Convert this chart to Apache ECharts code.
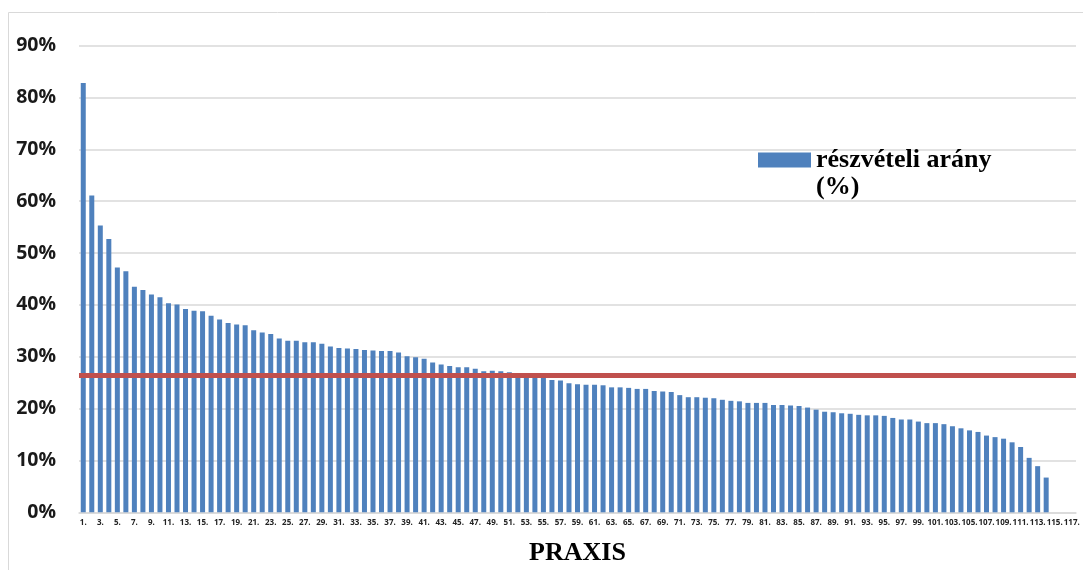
<!DOCTYPE html>
<html lang="hu">
<head>
    <meta charset="UTF-8">
    <title>részvételi arány</title>
    <script src="https://cdn.jsdelivr.net/npm/echarts@6/dist/echarts.min.js"></script>
    <style>
        html, body { margin: 0; padding: 0; background: #fff; }
        #paint { width: 1083px; height: 570px; }
    </style>
</head>
<body>
<div id="paint"></div>
<script type="text/javascript">
    // praxis sorszámok 1..117 (csak 114 értékkel)
    var categories = [];
    for (var i = 1; i <= 117; i++) {
        categories.push(i + '.');
    }

    // részvételi arány (%) praxisonként
    var rates = [
        82.8, 61.1, 55.3, 52.7, 47.2, 46.5, 43.5, 42.9, 42.0, 41.5,
        40.3, 40.1, 39.2, 38.9, 38.8, 37.9, 37.2, 36.5, 36.2, 36.1,
        35.1, 34.7, 34.4, 33.5, 33.1, 33.1, 32.8, 32.8, 32.5, 32.0,
        31.7, 31.6, 31.5, 31.3, 31.2, 31.1, 31.1, 30.8, 30.1, 29.9,
        29.6, 28.9, 28.5, 28.2, 28.0, 28.0, 27.7, 27.2, 27.3, 27.2,
        27.0, 26.8, 26.6, 26.5, 26.3, 25.5, 25.4, 24.9, 24.7, 24.6,
        24.6, 24.5, 24.1, 24.1, 24.0, 23.8, 23.8, 23.4, 23.3, 23.2,
        22.6, 22.2, 22.2, 22.1, 22.0, 21.7, 21.5, 21.4, 21.1, 21.1,
        21.1, 20.7, 20.7, 20.6, 20.5, 20.2, 19.8, 19.4, 19.3, 19.1,
        19.0, 18.8, 18.7, 18.7, 18.6, 18.2, 17.9, 17.9, 17.5, 17.2,
        17.2, 17.0, 16.6, 16.2, 15.8, 15.5, 14.8, 14.5, 14.2, 13.5,
        12.6, 10.5, 8.9, 6.7
    ];

    // átlag (piros vonal)
    var average = 26.4;

    var seriesName = 'részvételi arány';

    var myChart = echarts.init(document.getElementById('paint'));

    var option = {
        animation: false,
        grid: {
            left: 79,
            right: 7,
            top: 45.7,
            bottom: 57.7,
            outerBoundsMode: 'none'
        },
        legend: {
            data: [seriesName],
            left: 753,
            top: 142,
            itemWidth: 53,
            itemHeight: 15,
            itemGap: 4,
            icon: 'rect',
            textStyle: {
                fontFamily: '"Liberation Serif", serif',
                fontWeight: 'bold',
                fontSize: 26,
                color: '#000'
            }
        },
        graphic: [
            {
                type: 'rect',
                shape: { x: 8.5, y: 12.5, width: 1090, height: 570 },
                style: { fill: 'none', stroke: '#d9d9d9', lineWidth: 1 },
                silent: true
            },
            {
                type: 'text',
                left: 816,
                top: 174,
                style: {
                    text: '(%)',
                    font: 'bold 26px "Liberation Serif", serif',
                    fill: '#000'
                }
            }
        ],
        xAxis: {
            type: 'category',
            data: categories,
            name: 'PRAXIS',
            nameLocation: 'middle',
            nameGap: 28,
            nameTextStyle: {
                fontFamily: '"Liberation Serif", serif',
                fontWeight: 'bold',
                fontSize: 26,
                color: '#000'
            },
            axisLine: { lineStyle: { color: '#d9d9d9', width: 1.5 } },
            axisTick: { show: false },
            axisLabel: {
                interval: 1,
                margin: 6,
                fontFamily: '"Open Sans", Lato, sans-serif',
                fontWeight: 'bold',
                fontSize: 8,
                color: '#222'
            }
        },
        yAxis: {
            type: 'value',
            min: 0,
            max: 90,
            interval: 10,
            axisLine: { show: false },
            axisTick: { show: false },
            splitLine: { lineStyle: { color: '#d9d9d9', width: 1.5 } },
            axisLabel: {
                formatter: '{value}%',
                margin: 23,
                fontFamily: '"Open Sans", Lato, sans-serif',
                fontWeight: 'bold',
                fontSize: 19.5,
                color: '#1a1a1a'
            }
        },
        series: [{
            name: seriesName,
            type: 'bar',
            data: rates,
            barWidth: 5,
            itemStyle: { color: '#4f81bd' },
            markLine: {
                silent: true,
                symbol: 'none',
                label: { show: false },
                lineStyle: { color: '#c0504d', width: 5, type: 'solid' },
                data: [{ yAxis: average }]
            }
        }]
    };
    myChart.setOption(option);
</script>
</body>
</html>
